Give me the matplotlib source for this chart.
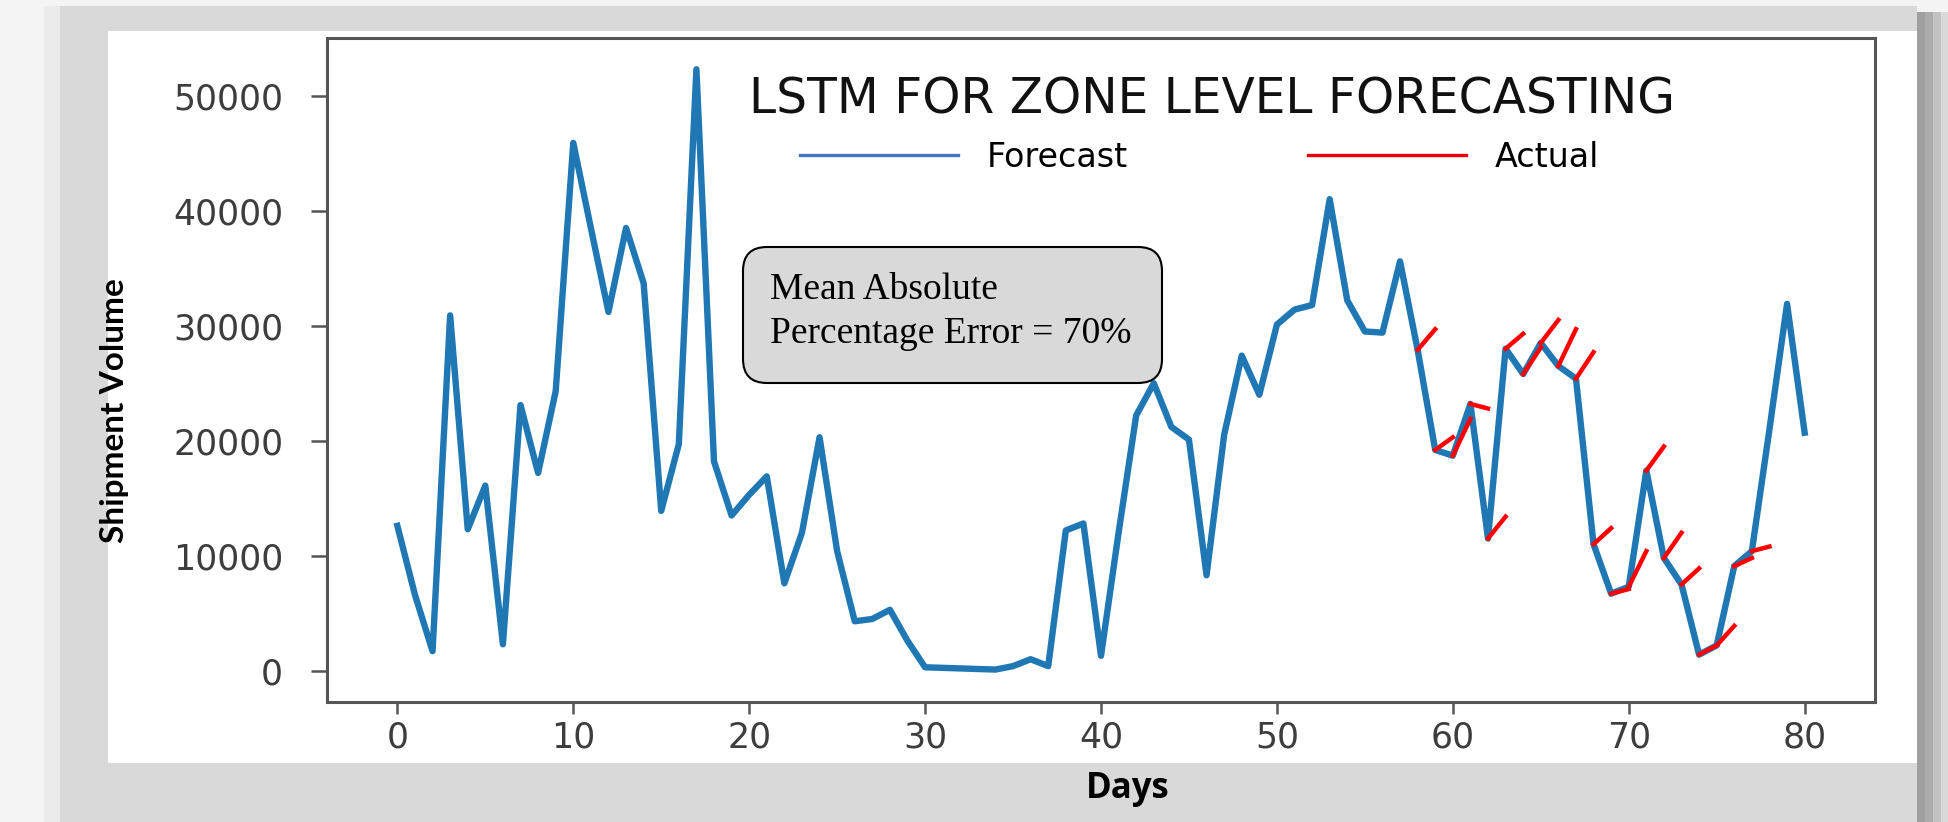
import numpy as np
import matplotlib
matplotlib.use('Agg')
import matplotlib.pyplot as plt
from matplotlib.patches import Rectangle, FancyBboxPatch
from matplotlib.lines import Line2D
from matplotlib.transforms import IdentityTransform

plt.rcParams['font.family'] = ['DejaVu Sans']

############################
days = np.arange(81)
forecast = [12600, 6600, 1700, 30900, 12300, 16100, 2300, 23100, 17200, 24300,
            45900, 38500, 31200, 38500, 33700, 13900, 19700, 52300, 18200, 13500,
            15300, 16900, 7600, 12000, 20300, 10400, 4300, 4500, 5300, 2600,
            300, 250, 200, 150, 100, 400, 1000, 400, 12200, 12800,
            1300, 12000, 22200, 25000, 21200, 20100, 8300, 20500, 27400, 24000,
            30100, 31400, 31800, 41000, 32200, 29500, 29400, 35600, 27900, 19200,
            18700, 23200, 11500, 28000, 25800, 28500, 26500, 25400, 11000, 6700,
            7300, 17400, 9800, 7500, 1400, 2200, 9100, 10400, 21000, 31900,
            20700]
# red pieces: start at the blue point of that day, end one day later
actual_start = list(range(58, 78))
actual_next = [29700, 20300, 21900, 22800, 13400, 29300, 28100, 30500, 29700, 27700,
               12400, 7100, 10400, 19500, 12000, 8900, 2200, 3900, 9800, 10800]
x_ticks = [0, 10, 20, 30, 40, 50, 60, 70, 80]
y_ticks = [0, 10000, 20000, 30000, 40000, 50000]
title = 'LSTM FOR ZONE LEVEL FORECASTING'
legend_labels = ['Forecast', 'Actual']
note = ['Mean Absolute', 'Percentage Error = 70%']
############################

W, H = 1949, 822
f = plt.figure(figsize=[W / 100, H / 100], dpi=100)
f.patch.set_facecolor('#f4f4f4')


def rect(x0, y0, x1, y1, color):
    # pixel box, y measured from the top
    f.add_artist(Rectangle((x0, H - y1), x1 - x0, y1 - y0, transform=IdentityTransform(),
                           facecolor=color, edgecolor='none', zorder=-10))


rect(44, 6, 60, H, '#ebebeb')
rect(60, 6, 1917, H, '#d9d9d9')
rect(108, 31, 1917, 763, 'white')
for x0, c in zip([1917, 1925, 1933, 1941], ['#9f9f9f', '#acacac', '#c2c2c2', '#dadada']):
    rect(x0, 12, x0 + 8, H, c)

ax0 = f.add_axes([327 / W, 1 - 702 / H, 1548 / W, 664 / H])
ax0.set_facecolor('white')

ax0.plot(days, forecast, color='#1f77b4', linewidth=4.6, zorder=2)
for d, v in zip(actual_start, actual_next):
    ax0.plot([d, d + 1], [forecast[d], v], color='#ff0000', linewidth=3.2, zorder=3)

ax0.set_xlim([-4, 84])
ax0.set_ylim([-2720, 55020])
ax0.set_xticks(x_ticks)
ax0.set_yticks(y_ticks)
ax0.tick_params(axis='y', length=11.5, width=1.8, pad=20, labelsize=25,
                color='#555555', labelcolor='#3d3d3d')
ax0.tick_params(axis='x', length=8.6, width=1.8, pad=5, labelsize=25,
                color='#555555', labelcolor='#3d3d3d')
for s in ax0.spines.values():
    s.set_linewidth(2.2)
    s.set_color('#555555')

ax0.set_ylabel('Shipment Volume', family='Lato', fontweight='bold', fontsize=24)
ax0.yaxis.set_label_coords((129 - 327) / 1548, (702 - 411) / 664)
ax0.set_xlabel('Days', family='Open Sans', fontweight='bold', fontsize=25, va='baseline')
ax0.xaxis.set_label_coords((1128 - 327) / 1548, (702 - 798) / 664)

f.text(1212 / W, 1 - 114 / H, title, fontsize=35,
       ha='center', va='baseline', color='#111111')

handles = [Line2D([], [], color='#4472c4', linewidth=2.4),
           Line2D([], [], color='#e8000b', linewidth=2.4)]
fs = 24 * 100 / 72
ax0.legend(handles, legend_labels, ncol=2, frameon=False, loc='center left',
           bbox_to_anchor=(800 / W, 1 - 157 / H), bbox_transform=f.transFigure,
           prop={'size': 24},
           handlelength=158 / fs, handletextpad=29 / fs, columnspacing=180 / fs,
           borderaxespad=0, borderpad=0)

f.add_artist(FancyBboxPatch((743, H - 383), 419, 136, boxstyle='round,pad=0,rounding_size=24',
                            transform=IdentityTransform(), facecolor='#d9d9d9',
                            edgecolor='black', linewidth=1.5, zorder=5))
f.text(770 / W, 1 - 299 / H, note[0], family='Liberation Serif', fontsize=27,
       va='baseline', zorder=6)
f.text(770 / W, 1 - 343 / H, note[1], family='Liberation Serif', fontsize=27,
       va='baseline', zorder=6)

f.savefig('out.png', dpi=100, facecolor=f.get_facecolor())
